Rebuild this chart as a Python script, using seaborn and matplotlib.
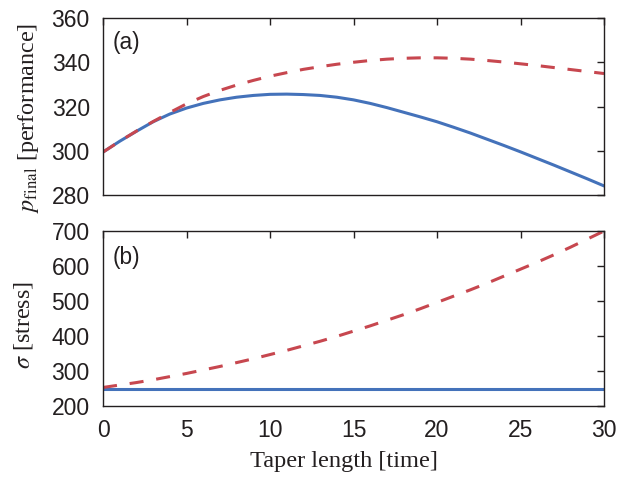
import numpy as np
import pandas as pd
import matplotlib
matplotlib.use("Agg")
import matplotlib.pyplot as plt
import seaborn as sns

# Taper length axis
taper = list(range(0, 31))

# Final performance for the two strategies
perf_solid = [299.4, 304.3, 308.8, 313.1, 316.6, 319.3, 321.4, 323.0, 324.2, 325.0,
              325.5, 325.6, 325.4, 325.0, 324.2, 323.0, 321.4, 319.5, 317.4, 315.3,
              313.1, 310.6, 308.0, 305.2, 302.4, 299.5, 296.5, 293.5, 290.4, 287.3,
              284.1]
perf_dashed = [299.4, 304.3, 308.9, 313.2, 317.3, 321.2, 324.5, 327.3, 329.7, 331.8,
               333.7, 335.3, 336.8, 338.0, 339.1, 340.0, 340.8, 341.4, 341.8, 342.0,
               342.0, 341.8, 341.4, 340.8, 340.1, 339.3, 338.5, 337.6, 336.7, 335.8,
               334.9]

# Stress for the two strategies
stress_solid = [250] * 31
stress_dashed = [253, 260, 267, 275, 284, 293, 303, 313, 324, 335,
                 347, 359, 372, 385, 399, 414, 429, 445, 461, 478,
                 496, 514, 532, 551, 571, 591, 611, 632, 654, 677,
                 700]

top_ticks = [280, 300, 320, 340, 360]
bottom_ticks = [200, 300, 400, 500, 600, 700]
x_ticks = [0, 5, 10, 15, 20, 25, 30]

BLUE = "#4472BA"
RED = "#C7474F"
INK = "#231F20"

sns.set_theme(style="white")
plt.rcParams["font.family"] = ["Liberation Sans", "DejaVu Sans"]
plt.rcParams["mathtext.fontset"] = "stix"

fig = plt.figure(figsize=(6.29, 4.79), dpi=100)
ax1 = fig.add_axes([0.1638, 0.5929, 0.7965, 0.3695])
ax2 = fig.add_axes([0.1638, 0.1524, 0.7965, 0.3653])

df_top = pd.DataFrame({"x": taper, "solid": perf_solid, "dashed": perf_dashed})
df_bot = pd.DataFrame({"x": taper, "solid": stress_solid, "dashed": stress_dashed})

for ax, df in ((ax1, df_top), (ax2, df_bot)):
    sns.lineplot(data=df, x="x", y="solid", ax=ax, color=BLUE, linewidth=2.2)
    sns.lineplot(data=df, x="x", y="dashed", ax=ax, color=RED, linewidth=2.2,
                 dashes=False, linestyle=(0, (4.6, 4.2)))

ax1.set_ylim(280, 360)
ax1.set_yticks(top_ticks)
ax2.set_ylim(200, 700)
ax2.set_yticks(bottom_ticks)

for ax in (ax1, ax2):
    ax.set_xlim(0, 30)
    ax.set_xticks(x_ticks)
    ax.tick_params(direction="in", length=5, width=1, colors=INK,
                   top=True, right=True, labelsize=16.5, pad=9.5)
    for s in ax.spines.values():
        s.set_color(INK)
        s.set_linewidth(1.0)
    ax.set_xlabel("")
    ax.set_ylabel("")

ax1.tick_params(labelbottom=False)

serif = ["Liberation Serif", "DejaVu Serif"]
ax1.set_ylabel(r"$p_{\mathrm{final}}$ [performance]", family=serif, fontsize=17.4,
               color=INK)
ax1.yaxis.set_label_coords(-0.124, 0.435)
ax2.set_ylabel(r"$\sigma$ [stress]", family=serif, fontsize=17.4, color=INK)
ax2.yaxis.set_label_coords(-0.136, 0.463)
ax2.set_xlabel("Taper length [time]", family=serif, fontsize=17.6, color=INK)
ax2.xaxis.set_label_coords(0.48, -0.255)

ax1.text(0.02, 0.862, "(a)", transform=ax1.transAxes, fontsize=16.3, color=INK,
         va="center", ha="left")
ax2.text(0.02, 0.846, "(b)", transform=ax2.transAxes, fontsize=16.3, color=INK,
         va="center", ha="left")

fig.savefig("out.png", dpi=100)
